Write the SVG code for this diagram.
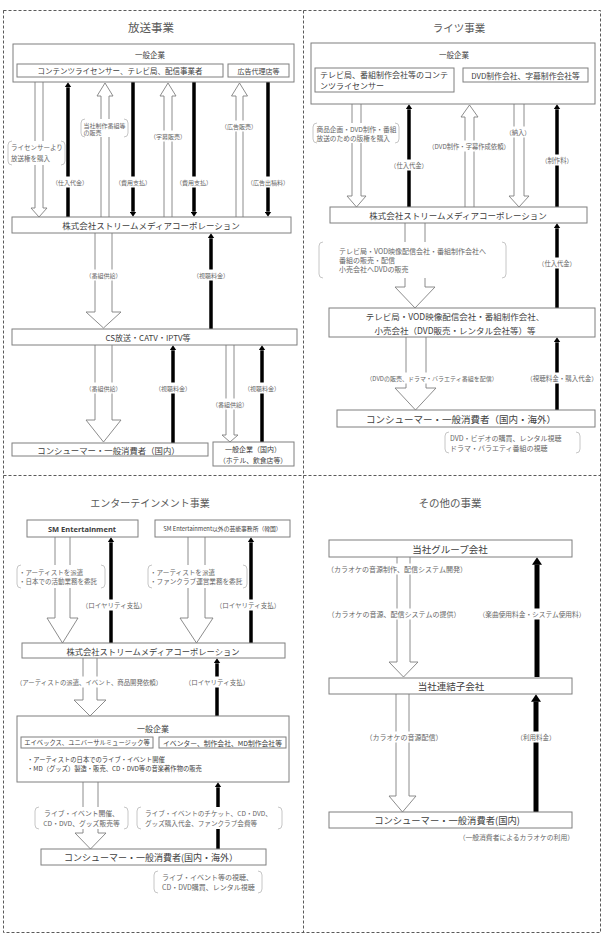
<svg xmlns="http://www.w3.org/2000/svg" width="605" height="942" viewBox="0 0 605 942">
<style>
text{font-family:"Noto Sans CJK JP","Noto Sans",sans-serif;dominant-baseline:central;text-anchor:middle;fill:#404040}
.l{text-anchor:start}
.e{text-anchor:end}
.title{fill:#595959}
.lb{fill:#666}
.frame{fill:none;stroke:#595959;stroke-width:1;stroke-dasharray:3 2}
.box{fill:#fff;stroke:#7f7f7f;stroke-width:1}
.hol{fill:#fff;stroke:#7f7f7f;stroke-width:0.9}
.blk{fill:none;stroke:#000;stroke-width:3.5;marker-end:url(#ah)}
.blk5{fill:none;stroke:#000;stroke-width:5;marker-end:url(#ah)}
.bg{fill:#fff}
.brk{fill:none;stroke:#bfbfbf;stroke-width:0.9}
.sm{font-family:"Noto Sans","Liberation Sans",sans-serif;font-weight:bold}
</style>
<defs>
<marker id="ah" viewBox="0 0 1.5 2" refX="0.05" refY="1" markerWidth="1.5" markerHeight="2" orient="auto"><path d="M0,0 L1.5,1 L0,2 Z" fill="#000"/></marker>
</defs>
<rect width="605" height="942" fill="#fff"/>
<g id="frame">
<rect class="frame" x="3.5" y="10.5" width="597" height="922"/>
<line class="frame" x1="303.5" y1="10.5" x2="303.5" y2="932.5"/>
<line class="frame" x1="3.5" y1="475.5" x2="600.5" y2="475.5"/>
</g>
<g id="titles">
<text class="title" x="151" y="27" font-size="11.5">放送事業</text>
<text class="title" x="459" y="27" font-size="10.5">ライツ事業</text>
<text class="title" x="150" y="502" font-size="10">エンターテインメント事業</text>
<text class="title" x="450" y="502" font-size="10.5">その他の事業</text>
</g>
<g id="connectors">
<path class="hol" d="M35,82 V208 H31 L39,217 L47,208 H43 V82"/>
<path class="blk" d="M68,217 V87.3"/>
<path class="hol" d="M101,217 V96 H97 L105,83 L113,96 H109 V217"/>
<path class="blk" d="M133,82 V211.7"/>
<path class="hol" d="M164,217 V96 H160 L168,83 L176,96 H172 V217"/>
<path class="blk" d="M194,82 V211.7"/>
<path class="hol" d="M236,217 V96 H231.5 L239.5,83 L247.5,96 H243 V217"/>
<path class="blk" d="M268,82 V211.7"/>
<path class="hol" d="M95,233 V312 H86 L103.5,328 L121,312 H112 V233"/>
<path class="blk" d="M211,329 V238.3"/>
<path class="hol" d="M95,345 V420 H86 L103.5,442 L121,420 H112 V345"/>
<path class="blk" d="M173,443 V350.3"/>
<path class="hol" d="M226,345 V435 H222 L230,442 L238,435 H234 V345"/>
<path class="blk" d="M262,442 V350.3"/>
<path class="hol" d="M352,104 V196 H347 L356.5,207 L366,196 H361 V104"/>
<path class="blk" d="M409,207 V109.3"/>
<path class="hol" d="M465,207 V117 H461 L469.5,105 L478,117 H474 V207"/>
<path class="hol" d="M514,104 V196 H509 L519,207 L529,196 H524 V104"/>
<path class="blk" d="M557,207 V109.3"/>
<path class="hol" d="M405,223 V287 H395 L415,308 L435,287 H425 V223"/>
<path class="blk" d="M557,308 V228.3"/>
<path class="hol" d="M406,337 V388 H395 L415.5,410 L436,388 H426 V337"/>
<path class="blk" d="M557,410 V342.3"/>
<path class="hol" d="M55,537 V618 H47 L62.5,643 L78,618 H70 V537"/>
<path class="blk" d="M111,643 V542.3"/>
<path class="hol" d="M188,537 V618 H180 L196.5,643 L213,618 H205 V537"/>
<path class="blk" d="M251,643 V542.3"/>
<path class="hol" d="M83,658 V700 H74 L90,716 L106,700 H97 V658"/>
<path class="blk" d="M217,716 V663.3"/>
<path class="hol" d="M83,782 V833 H75 L90.5,849 L106,833 H98 V782"/>
<path class="blk" d="M218,849 V787.3"/>
<path class="hol" d="M397,557 V662 H389 L403.5,677 L418,662 H410 V557"/>
<path class="blk5" d="M537,677 V564.5"/>
<path class="hol" d="M396,694 V796 H389 L402.5,812 L416,796 H409 V694"/>
<path class="blk5" d="M536,812 V701.5"/>
</g>
<g id="n-tl-kigyo">
<rect class="box" x="13" y="44" width="281" height="38"/>
<text x="150" y="54" font-size="7.5">一般企業</text>
<rect class="box" x="17" y="64" width="206" height="13"/>
<text x="120" y="70.5" font-size="7.5">コンテンツライセンサー、テレビ局、配信事業者</text>
<rect class="box" x="228" y="64" width="61" height="13"/>
<text x="258.5" y="70.5" font-size="7">広告代理店等</text>
</g>
<g id="n-tl-smc">
<rect class="box" x="12" y="217" width="279" height="16"/>
<text x="151" y="225" font-size="8.5">株式会社ストリームメディアコーポレーション</text>
</g>
<g id="n-tl-cs">
<rect class="box" x="12" y="329" width="285" height="16"/>
<text x="148" y="337" font-size="8">CS放送・CATV・IPTV等</text>
</g>
<g id="n-tl-consumer">
<rect class="box" x="12" y="443" width="196" height="13"/>
<text x="108.5" y="449.5" font-size="8.4">コンシューマー・一般消費者（国内）</text>
</g>
<g id="n-tl-kigyo2">
<rect class="box" x="213" y="442" width="81" height="24"/>
<text x="253" y="449" font-size="7">一般企業（国内）</text>
<text x="253" y="459.5" font-size="6.8">（ホテル、飲食店等）</text>
</g>
<g id="n-tr-kigyo">
<rect class="box" x="311" y="43" width="284" height="61"/>
<text x="454" y="54" font-size="7.5">一般企業</text>
<rect class="box" x="315" y="68" width="139" height="24"/>
<text class="l" x="320" y="74.5" font-size="8">テレビ局、番組制作会社等のコンテ</text>
<text class="l" x="320" y="85" font-size="8">ンツライセンサー</text>
<rect class="box" x="463" y="68" width="125" height="14"/>
<text x="525.5" y="75" font-size="7.8">DVD制作会社、字幕制作会社等</text>
</g>
<g id="n-tr-smc">
<rect class="box" x="330" y="207" width="257" height="16"/>
<text x="458" y="215" font-size="8.5">株式会社ストリームメディアコーポレーション</text>
</g>
<g id="n-tr-tv">
<rect class="box" x="329" y="308" width="266" height="29"/>
<text x="455" y="316" font-size="8.5">テレビ局・VOD映像配信会社・番組制作会社、</text>
<text x="455" y="329.5" font-size="8.5">小売会社（DVD販売・レンタル会社等）等</text>
</g>
<g id="n-tr-consumer">
<rect class="box" x="337" y="410" width="258" height="17"/>
<text x="461" y="418.5" font-size="9.5">コンシューマー・一般消費者（国内・海外）</text>
</g>
<g id="n-bl-sm">
<rect class="box" x="27" y="520" width="111" height="17"/>
<text class="sm" x="82" y="528.5" font-size="7.5">SM Entertainment</text>
</g>
<g id="n-bl-other">
<rect class="box" x="155" y="520" width="135" height="17"/>
<text x="222.5" y="528.5" font-size="5.8">SM Entertainment以外の芸能事務所（韓国）</text>
</g>
<g id="n-bl-smc">
<rect class="box" x="22" y="643" width="263" height="15"/>
<text x="153" y="650.5" font-size="8.3">株式会社ストリームメディアコーポレーション</text>
</g>
<g id="n-bl-kigyo">
<rect class="box" x="17" y="716" width="272" height="66"/>
<text x="153" y="728" font-size="8">一般企業</text>
<rect class="box" x="21" y="737" width="132" height="11"/>
<text x="87" y="742.5" font-size="6.3">エイベックス、ユニバーサルミュージック等</text>
<rect class="box" x="159" y="737" width="127" height="11"/>
<text x="222.5" y="742.5" font-size="6.8">イベンター、制作会社、MD制作会社等</text>
<text class="l" x="27" y="759" font-size="6.3">・アーティストの日本でのライブ・イベント開催</text>
<text class="l" x="27" y="768" font-size="6.3">・MD（グッズ）製造・販売、CD・DVD等の音楽著作物の販売</text>
</g>
<g id="n-bl-consumer">
<rect class="box" x="41" y="849" width="225" height="16"/>
<text x="151" y="857" font-size="9">コンシューマー・一般消費者(国内・海外）</text>
</g>
<g id="n-br-group">
<rect class="box" x="329" y="540" width="243" height="17"/>
<text x="450" y="548.5" font-size="9.5">当社グループ会社</text>
</g>
<g id="n-br-sub">
<rect class="box" x="329" y="678" width="243" height="16"/>
<text x="451" y="686" font-size="9.5">当社連結子会社</text>
</g>
<g id="n-br-consumer">
<rect class="box" x="329" y="812" width="243" height="16"/>
<text x="447" y="820" font-size="9.3">コンシューマー・一般消費者(国内)</text>
</g>
<g id="labels">
<rect class="bg" x="8" y="141" width="57" height="24"/>
<path class="brk" d="M12,141 Q8,141 8,145 V161 Q8,165 12,165 M61,141 Q65,141 65,145 V161 Q65,165 61,165"/>
<text class="l lb" x="11" y="147" font-size="6.5">ライセンサーより</text>
<text class="l lb" x="11" y="158" font-size="6.5">放送権を購入</text>
<rect class="bg" x="81" y="119" width="47" height="18"/>
<path class="brk" d="M85,119 Q81,119 81,123 V133 Q81,137 85,137 M124,119 Q128,119 128,123 V133 Q128,137 124,137"/>
<text class="l lb" x="83.5" y="125.5" font-size="6">当社制作番組等</text>
<text class="l lb" x="83.5" y="132.8" font-size="6">の販売</text>
<rect class="bg" x="51" y="176.5" width="38" height="11"/><text class="lb" x="70" y="182" font-size="6">（仕入代金）</text>
<rect class="bg" x="114" y="176.5" width="38" height="11"/><text class="lb" x="133" y="182" font-size="6">（費用支払）</text>
<rect class="bg" x="149" y="130.5" width="38" height="11"/><text class="lb" x="168" y="136" font-size="6">（字幕販売）</text>
<rect class="bg" x="175" y="176.5" width="38" height="11"/><text class="lb" x="194" y="182" font-size="6">（費用支払）</text>
<rect class="bg" x="220" y="120.5" width="38" height="11"/><text class="lb" x="239" y="126" font-size="6">（広告販売）</text>
<rect class="bg" x="246" y="176.5" width="44" height="11"/><text class="lb" x="268" y="182" font-size="6">（広告出稿料）</text>
<rect class="bg" x="84.5" y="269.5" width="38" height="11"/><text class="lb" x="103.5" y="275" font-size="6">（番組供給）</text>
<rect class="bg" x="192" y="269.5" width="38" height="11"/><text class="lb" x="211" y="275" font-size="6">（視聴料金）</text>
<rect class="bg" x="84.5" y="382.5" width="38" height="11"/><text class="lb" x="103.5" y="388" font-size="6">（番組供給）</text>
<rect class="bg" x="154" y="382.5" width="38" height="11"/><text class="lb" x="173" y="388" font-size="6">（視聴料金）</text>
<rect class="bg" x="211" y="398.5" width="38" height="11"/><text class="lb" x="230" y="404" font-size="6">（番組供給）</text>
<rect class="bg" x="243" y="382.5" width="38" height="11"/><text class="lb" x="262" y="388" font-size="6">（視聴料金）</text>

<rect class="bg" x="313" y="123" width="86" height="20"/>
<path class="brk" d="M317,123 Q313,123 313,127 V139 Q313,143 317,143 M395,123 Q399,123 399,127 V139 Q399,143 395,143"/>
<text class="l lb" x="316.5" y="128.5" font-size="6.7">商品企画・DVD制作・番組</text>
<text class="l lb" x="316.5" y="137.5" font-size="6.7">放送のための版権を購入</text>
<rect class="bg" x="389" y="159.5" width="40" height="11"/><text class="lb" x="409" y="165" font-size="6.3">（仕入代金）</text>
<rect class="bg" x="429" y="140.5" width="80" height="11"/><text class="lb" x="469" y="146" font-size="6.3">（DVD制作・字幕作成依頼）</text>
<rect class="bg" x="504.5" y="126.5" width="27" height="11"/><text class="lb" x="518" y="132" font-size="6.3">（納入）</text>
<rect class="bg" x="540.5" y="154.5" width="33" height="11"/><text class="lb" x="557" y="160" font-size="6.3">（制作料）</text>
<rect class="bg" x="319" y="242" width="187" height="36"/>
<path class="brk" d="M323,242 Q319,242 319,246 V274 Q319,278 323,278 M502,242 Q506,242 506,246 V274 Q506,278 502,278"/>
<text class="l lb" x="339" y="250.5" font-size="7">テレビ局・VOD映像配信会社・番組制作会社へ</text>
<text class="l lb" x="339" y="259.5" font-size="7">番組の販売・配信</text>
<text class="l lb" x="339" y="268.5" font-size="7">小売会社へDVDの販売</text>
<rect class="bg" x="537" y="257.5" width="40" height="11"/><text class="lb" x="557" y="263" font-size="6.3">（仕入代金）</text>
<rect class="bg" x="367" y="372.5" width="130" height="11"/><text class="lb" x="432" y="378" font-size="6">（DVDの販売、ドラマ・バラエティ番組を配信）</text>
<rect class="bg" x="525" y="372.5" width="74" height="11"/><text class="lb" x="562" y="378" font-size="6.5">（視聴料金・購入代金）</text>
<rect class="bg" x="445" y="432" width="135" height="21"/>
<path class="brk" d="M449,432 Q445,432 445,436 V449 Q445,453 449,453 M576,432 Q580,432 580,436 V449 Q580,453 576,453"/>
<text class="l lb" x="450" y="438" font-size="7">DVD・ビデオの購買、レンタル視聴</text>
<text class="l lb" x="450" y="448" font-size="7">ドラマ・バラエティ番組の視聴</text>

<rect class="bg" x="17" y="565" width="88" height="23"/>
<path class="brk" d="M21,565 Q17,565 17,569 V584 Q17,588 21,588 M101,565 Q105,565 105,569 V584 Q105,588 101,588"/>
<text class="l lb" x="19" y="571.5" font-size="6.5">・アーティストを派遣</text>
<text class="l lb" x="19" y="580.5" font-size="6.5">・日本での活動業務を委託</text>
<rect class="bg" x="148" y="565" width="99" height="23"/>
<path class="brk" d="M152,565 Q148,565 148,569 V584 Q148,588 152,588 M243,565 Q247,565 247,569 V584 Q247,588 243,588"/>
<text class="l lb" x="150" y="571.5" font-size="6.6">・アーティストを派遣</text>
<text class="l lb" x="150" y="580.5" font-size="6.6">・ファンクラブ運営業務を委託</text>
<rect class="bg" x="80" y="599.5" width="68" height="11"/><text class="lb" x="114" y="605" font-size="6.5">（ロイヤリティ支払）</text>
<rect class="bg" x="214" y="599.5" width="68" height="11"/><text class="lb" x="248" y="605" font-size="6.5">（ロイヤリティ支払）</text>
<rect class="bg" x="14" y="676.5" width="150" height="11"/><text class="lb" x="89" y="682" font-size="6.4">（アーティストの派遣、イベント、商品開発依頼）</text>
<rect class="bg" x="183" y="676.5" width="68" height="11"/><text class="lb" x="217" y="682" font-size="6.5">（ロイヤリティ支払）</text>
<rect class="bg" x="35" y="807" width="93" height="22"/>
<path class="brk" d="M39,807 Q35,807 35,811 V825 Q35,829 39,829 M124,807 Q128,807 128,811 V825 Q128,829 124,829"/>
<text class="lb" x="81.5" y="813" font-size="6.8">ライブ・イベント開催、</text>
<text class="lb" x="81.5" y="823" font-size="6.8">CD・DVD、グッズ販売等</text>
<rect class="bg" x="137" y="807" width="145" height="22"/>
<path class="brk" d="M141,807 Q137,807 137,811 V825 Q137,829 141,829 M278,807 Q282,807 282,811 V825 Q282,829 278,829"/>
<text class="l lb" x="145" y="813" font-size="6.6">ライブ・イベントのチケット、CD・DVD、</text>
<text class="l lb" x="145" y="823" font-size="6.6">グッズ購入代金、ファンクラブ会費等</text>
<rect class="bg" x="154" y="871" width="108" height="22"/>
<path class="brk" d="M158,871 Q154,871 154,875 V889 Q154,893 158,893 M258,871 Q262,871 262,875 V889 Q262,893 258,893"/>
<text class="l lb" x="162" y="877" font-size="7">ライブ・イベント等の視聴、</text>
<text class="l lb" x="162" y="887" font-size="7">CD・DVD購買、レンタル視聴</text>

<rect class="bg" x="325" y="563.5" width="144" height="11"/><text class="lb" x="397" y="569" font-size="7">（カラオケの音源制作、配信システム開発）</text>
<rect class="bg" x="325.5" y="608.5" width="137" height="11"/><text class="lb" x="394" y="614" font-size="7">（カラオケの音源、配信システムの提供）</text>
<rect class="bg" x="476.5" y="608.5" width="111" height="11"/><text class="lb" x="532" y="614" font-size="6.7">（楽曲使用料金・システム使用料）</text>
<rect class="bg" x="363.5" y="731.5" width="81" height="11"/><text class="lb" x="404" y="737" font-size="7">（カラオケの音源配信）</text>
<rect class="bg" x="514.5" y="731.5" width="43" height="11"/><text class="lb" x="536" y="737" font-size="6.5">（利用料金）</text>
<text class="e lb" x="574" y="837" font-size="6.8">（一般消費者によるカラオケの利用）</text>
</g>
</svg>
